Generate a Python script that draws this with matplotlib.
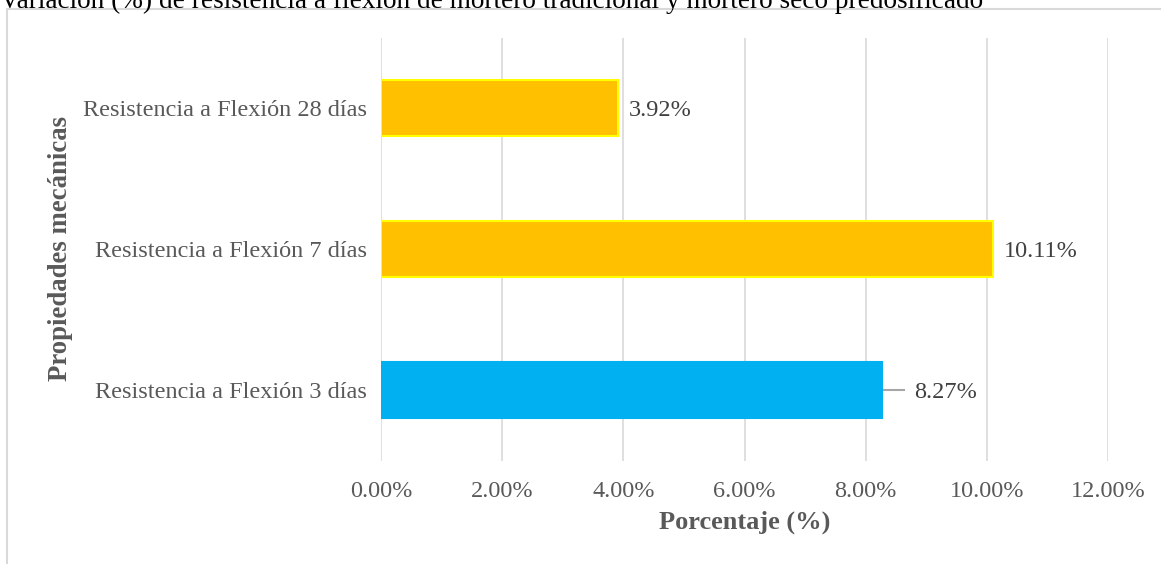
import numpy as np
import matplotlib
matplotlib.use('agg')
import matplotlib.pyplot as plt
from matplotlib.patches import Rectangle
from matplotlib.ticker import FuncFormatter

plt.rcParams['font.family'] = ['Liberation Serif', 'DejaVu Serif']

categories = ['Resistencia a Flexión 3 días', 'Resistencia a Flexión 7 días', 'Resistencia a Flexión 28 días']
values = [8.27, 10.11, 3.92]
bar_colors = ['#00B0F0', '#FFC000', '#FFC000']
edge_colors = ['#00B0F0', '#FFFF00', '#FFFF00']
title = 'Variación (%) de resistencia a flexión de mortero tradicional y mortero seco predosificado'

W, H = 1161, 564
fig = plt.figure(figsize=(W / 100, H / 100), dpi=100)
ax = fig.add_axes([381 / W, 1 - 460.5 / H, (1108 - 381) / W, 423 / H])

y = np.arange(len(categories))
ax.barh(y, values, height=0.4, color=bar_colors, edgecolor=edge_colors, linewidth=1.5, zorder=3)

ax.set_xlim(0, 12)
ax.set_ylim(-0.5, 2.5)
ax.set_xticks(np.arange(0, 12.01, 2))
ax.xaxis.set_major_formatter(FuncFormatter(lambda v, p: f'{v:.2f}%'))
ax.set_yticks(y)
ax.set_yticklabels(categories)
ax.tick_params(axis='both', length=0, labelsize=17.5, colors='#595959', pad=10)
ax.tick_params(axis='x', pad=15)
ax.grid(axis='x', color='#d9d9d9', linewidth=1.2, zorder=0)
for s in ax.spines.values():
    s.set_visible(False)

# data labels
for i, v in enumerate(values):
    if i == 0:
        ax.plot([v + 0.03, v + 0.37], [i, i], color='#a6a6a6', linewidth=1.5, zorder=4)
        ax.text(v + 0.53, i, f'{v:.2f}%', va='center_baseline', ha='left', fontsize=17.5, color='#404040')
    else:
        ax.text(v + 0.17, i, f'{v:.2f}%', va='center_baseline', ha='left', fontsize=17.5, color='#404040')

ax.set_xlabel('Porcentaje (%)', fontsize=19, fontweight='bold', color='#595959', labelpad=6)
fig.text(61 / W, 1 - 249 / H, 'Propiedades mecánicas', rotation=90, ha='center', va='center',
         fontsize=19.3, fontweight='bold', color='#595959')

# chart frame
fig.patches.append(Rectangle((7 / W, -0.1), 1.2, 1 - 9 / H + 0.1, transform=fig.transFigure,
                             fill=False, edgecolor='#d9d9d9', linewidth=1.5))

fig.text(0, 1 - 8 / H, title, ha='left', va='baseline', fontsize=19.6, color='black')

fig.savefig('out.png', dpi=100)
